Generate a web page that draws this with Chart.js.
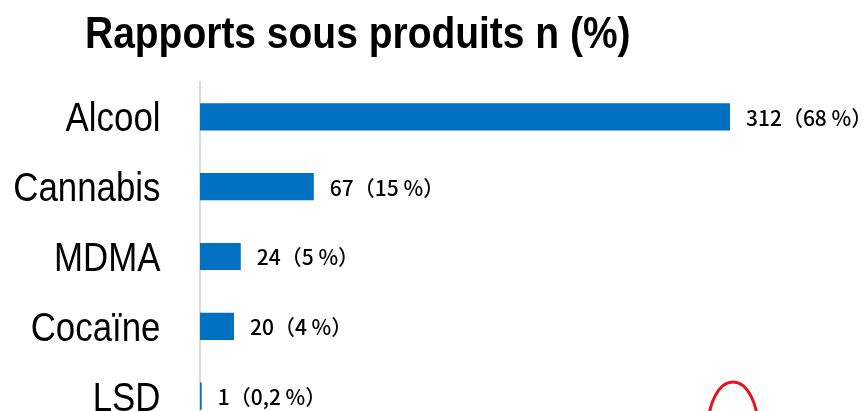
<!DOCTYPE html>
<html>
<head>
<meta charset="utf-8">
<script src="https://cdn.jsdelivr.net/npm/chart.js@4"></script>
<style>
  html, body { margin: 0; padding: 0; background: #ffffff; overflow: hidden; width: 864px; height: 411px; }
  canvas { display: block; }
</style>
</head>
<body>
<canvas id="c" width="864" height="440"></canvas>
<script>
// ---- data ----
const titleText = "Rapports sous produits n (%)";
const categories = ["Alcool", "Cannabis", "MDMA", "Cocaïne", "LSD"];
const counts = [312, 67, 24, 20, 1];
const percentLabels = ["68", "15", "5", "4", "0,2"];

const SANS = '"Liberation Sans", Arial, sans-serif';
const SQUASH = 0.85;

const titlePlugin = {
  id: 'leftTitle',
  afterDraw(chart) {
    const ctx = chart.ctx;
    ctx.save();
    ctx.font = 'bold 45px ' + SANS;
    ctx.fillStyle = '#000000';
    ctx.textBaseline = 'alphabetic';
    ctx.textAlign = 'left';
    ctx.scale(0.866, 1);
    ctx.fillText(titleText, 85 / 0.866, 48);
    ctx.restore();
  }
};

const categoryLabels = {
  id: 'categoryLabels',
  afterDraw(chart) {
    const ctx = chart.ctx;
    const yScale = chart.scales.y;
    const rightEdge = yScale.right - 39.5;
    ctx.save();
    ctx.font = '41px ' + SANS;
    ctx.fillStyle = '#000000';
    ctx.textBaseline = 'alphabetic';
    ctx.textAlign = 'right';
    ctx.scale(SQUASH, 1);
    chart.data.labels.forEach((lab, i) => {
      const y = yScale.getPixelForTick(i);
      ctx.fillText(lab, rightEdge / SQUASH, y + 14.5);
    });
    ctx.restore();
  }
};

const valueLabels = {
  id: 'valueLabels',
  afterDatasetsDraw(chart) {
    const ctx = chart.ctx;
    const meta = chart.getDatasetMeta(0);
    ctx.save();
    ctx.font = '500 21px "Noto Sans CJK JP", "Noto Sans", sans-serif';
    ctx.fillStyle = '#000000';
    ctx.textBaseline = 'middle';
    ctx.textAlign = 'left';
    meta.data.forEach((bar, i) => {
      const txt = counts[i] + '（' + percentLabels[i] + ' %）';
      ctx.fillText(txt, bar.x + 16, bar.y + 1);
    });
    ctx.restore();
  }
};

const redMark = {
  id: 'redMark',
  afterDraw(chart) {
    const ctx = chart.ctx;
    ctx.save();
    ctx.strokeStyle = '#E3161F';
    ctx.lineWidth = 3;
    ctx.beginPath();
    ctx.ellipse(733, 428, 25, 46, 0, 0, Math.PI * 2);
    ctx.stroke();
    ctx.restore();
  }
};

new Chart(document.getElementById('c'), {
  type: 'bar',
  data: {
    labels: categories,
    datasets: [{
      data: counts,
      backgroundColor: '#0070C0',
      borderWidth: 0,
      barPercentage: 0.39,
      categoryPercentage: 1.0
    }]
  },
  options: {
    indexAxis: 'y',
    responsive: false,
    animation: false,
    devicePixelRatio: 1,
    layout: { padding: { top: 82, bottom: 9, left: 0, right: 10 } },
    plugins: {
      legend: { display: false },
      title: { display: false },
      tooltip: { enabled: false }
    },
    scales: {
      x: { display: false, min: 0, max: 385 },
      y: {
        afterFit(scale) { scale.width = 200; },
        grid: { display: false, drawTicks: false },
        border: { display: true, color: '#D9D9D9', width: 2 },
        ticks: { display: false }
      }
    }
  },
  plugins: [valueLabels, categoryLabels, titlePlugin, redMark]
});
</script>
</body>
</html>
